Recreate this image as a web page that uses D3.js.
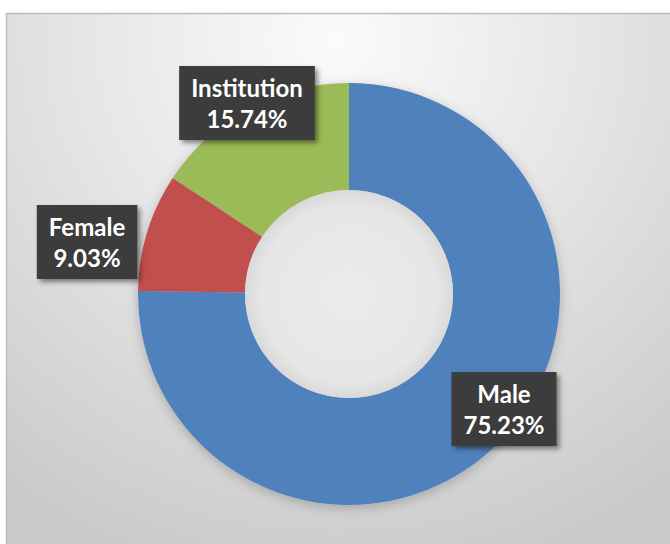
<!DOCTYPE html>
<html>
<head>
<meta charset="utf-8">
<script src="https://cdn.jsdelivr.net/npm/d3@7/dist/d3.min.js"></script>
<style>
  html, body { margin: 0; padding: 0; background: #ffffff; }
  svg { display: block; }
</style>
</head>
<body>
<svg id="chart" width="670" height="544"></svg>
<script>
// Ownership breakdown, shares in percent
const categories = ["Male", "Female", "Institution"];
const shares = [75.23, 9.03, 15.74];
const labelText = ["75.23%", "9.03%", "15.74%"];
const colors = ["#4F81BD", "#C0504D", "#9BBB59"];

// Layout settings
const W = 670, H = 544;
const cx = 349, cy = 294;
const outerR = 211, innerR = 104;
// label box centres, relative to the donut centre
const labelOffsets = [[155, 115], [-262, -52], [-102, -191]];

const svg = d3.select("#chart");
const defs = svg.append("defs");

// plot-area background: light at the top centre, greying toward the edges
const bg = defs.append("radialGradient")
  .attr("id", "bgGrad")
  .attr("gradientUnits", "userSpaceOnUse")
  .attr("cx", 335).attr("cy", 40).attr("r", 560)
  .attr("fx", 335).attr("fy", 40);
bg.append("stop").attr("offset", "0%").attr("stop-color", "#fbfbfb");
bg.append("stop").attr("offset", "45%").attr("stop-color", "#e6e6e6");
bg.append("stop").attr("offset", "100%").attr("stop-color", "#c9c9c9");

// hole fill
const hole = defs.append("radialGradient")
  .attr("id", "holeGrad");
hole.append("stop").attr("offset", "0%").attr("stop-color", "#ebebeb");
hole.append("stop").attr("offset", "85%").attr("stop-color", "#e6e6e6");
hole.append("stop").attr("offset", "100%").attr("stop-color", "#d9d9d9");

// soft shadow under the ring
const ringShadow = defs.append("filter").attr("id", "ringShadow")
  .attr("x", "-20%").attr("y", "-20%").attr("width", "140%").attr("height", "140%");
ringShadow.append("feDropShadow")
  .attr("dx", 0).attr("dy", 3).attr("stdDeviation", 6)
  .attr("flood-color", "#000").attr("flood-opacity", 0.22);

// label box shadow
const boxShadow = defs.append("filter").attr("id", "boxShadow")
  .attr("x", "-20%").attr("y", "-20%").attr("width", "150%").attr("height", "150%");
boxShadow.append("feDropShadow")
  .attr("dx", 3).attr("dy", 3).attr("stdDeviation", 2.5)
  .attr("flood-color", "#000").attr("flood-opacity", 0.45);

// dotted dark fill for label boxes
const dots = defs.append("pattern").attr("id", "dots")
  .attr("patternUnits", "userSpaceOnUse").attr("width", 4).attr("height", 4);
dots.append("rect").attr("width", 4).attr("height", 4).attr("fill", "#383838");
dots.append("circle").attr("cx", 1).attr("cy", 1).attr("r", 0.8).attr("fill", "#4a4a4a");
dots.append("circle").attr("cx", 3).attr("cy", 3).attr("r", 0.8).attr("fill", "#4a4a4a");

// chart area
svg.append("rect")
  .attr("x", 6.5).attr("y", 13.5)
  .attr("width", W).attr("height", H)
  .attr("fill", "url(#bgGrad)")
  .attr("stroke", "#bdbdbd").attr("stroke-width", 1.5);

const pie = d3.pie().sort(null).value(d => d)
  .startAngle(0).endAngle(2 * Math.PI);
const arcs = pie(shares);
const arc = d3.arc().innerRadius(innerR).outerRadius(outerR);

const g = svg.append("g").attr("transform", `translate(${cx},${cy})`);

const ring = g.append("g").attr("filter", "url(#ringShadow)");
ring.selectAll("path")
  .data(arcs)
  .join("path")
  .attr("d", arc)
  .attr("fill", (d, i) => colors[i]);

g.append("circle")
  .attr("r", innerR)
  .attr("fill", "url(#holeGrad)");

// labels
const lab = g.selectAll("g.label")
  .data(arcs)
  .join("g")
  .attr("class", "label")
  .attr("transform", (d, i) => `translate(${labelOffsets[i][0]},${labelOffsets[i][1]})`);

const fontSize = 24;
lab.each(function (d, i) {
  const el = d3.select(this);
  const t = el.append("text")
    .attr("text-anchor", "middle")
    .attr("font-family", "Lato, 'Open Sans', sans-serif")
    .attr("font-weight", "bold")
    .attr("font-size", fontSize)
    .attr("fill", "#ffffff");
  t.append("tspan").attr("x", 0).attr("y", -6).text(categories[i]);
  t.append("tspan").attr("x", 0).attr("y", 25).text(labelText[i]);
  const bb = t.node().getBBox();
  el.insert("rect", "text")
    .attr("x", bb.x - 12).attr("y", -37)
    .attr("width", bb.width + 24).attr("height", 74)
    .attr("fill", "url(#dots)")
    .attr("filter", "url(#boxShadow)");
});
</script>
</body>
</html>
